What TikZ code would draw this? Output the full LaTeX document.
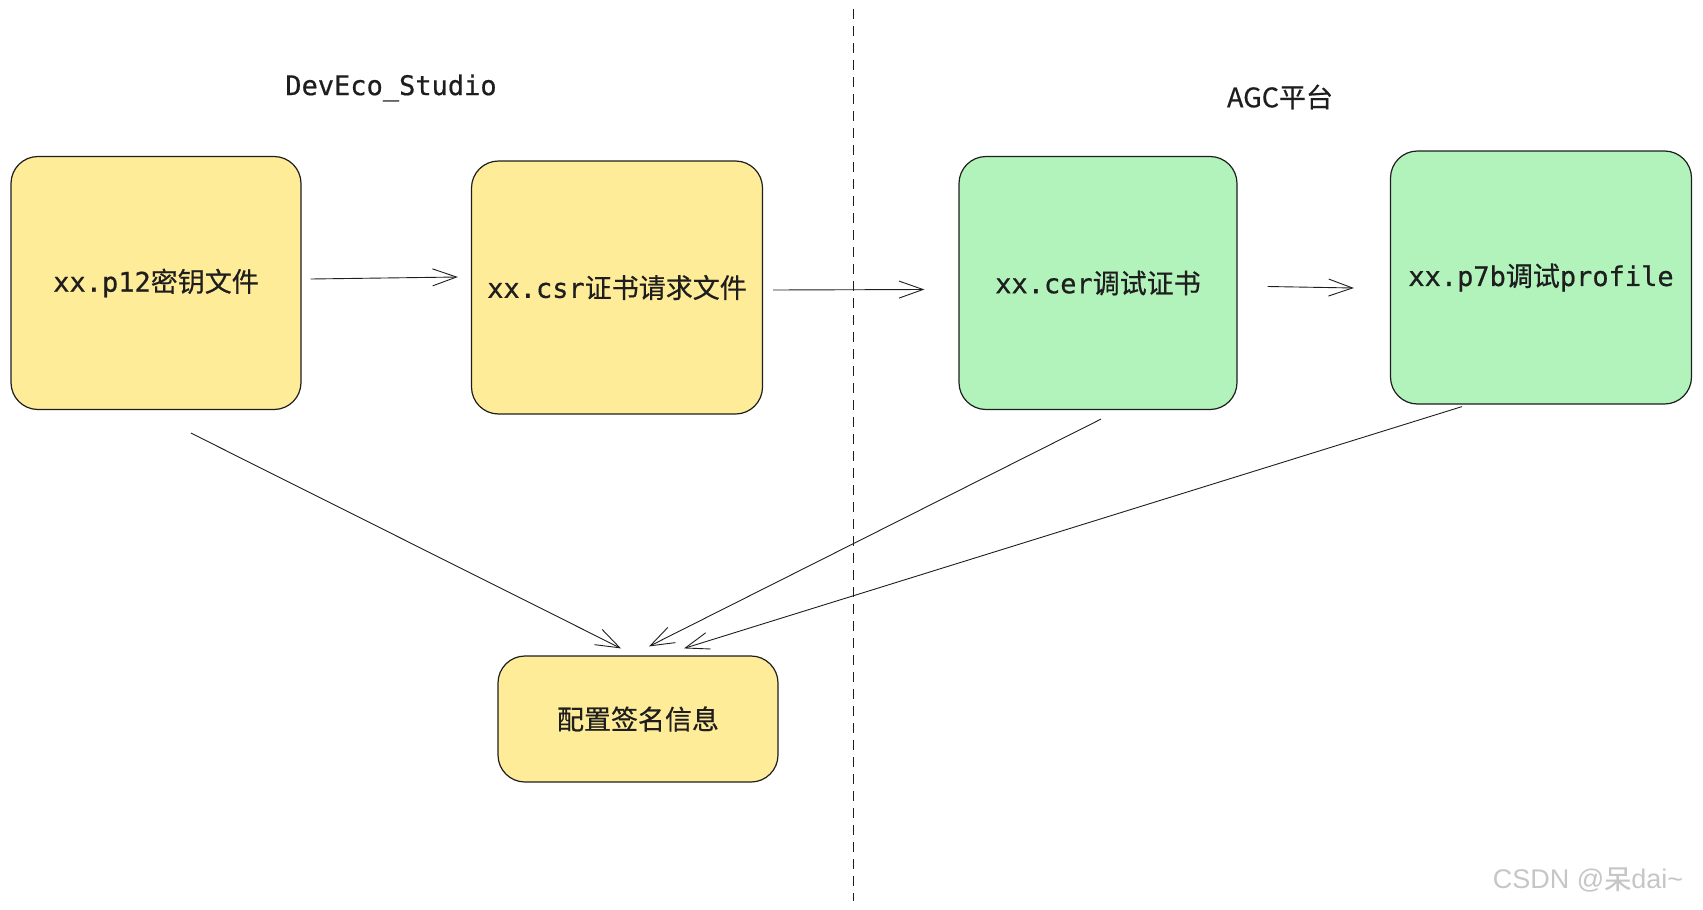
\documentclass[tikz,border=0pt]{standalone}
\usepackage{fontspec}
\setmainfont{DejaVu Sans Mono}[FakeBold=0.6]
\newfontfamily\cjk{Noto Sans CJK SC}[FakeBold=0.5]
\newfontfamily\markfont{Liberation Sans}
\usetikzlibrary{arrows.meta,positioning}
\definecolor{boxyellow}{HTML}{FFEC99}
\definecolor{boxgreen}{HTML}{B2F2BB}
\definecolor{ink}{HTML}{1E1E1E}

\begin{document}
\begin{tikzpicture}[x=1pt,y=-1pt,->,>={Straight Barb[length=24pt,width=17pt]},
	line width=0.9pt,draw=ink,node distance=461pt,
	every node/.style={font=\fontsize{27}{32}\selectfont,text=ink},
	file node/.style={rectangle,rounded corners=27pt,draw=ink,line width=1.2pt,
		inner sep=0pt,minimum width=290pt,minimum height=253pt}]

	\useasboundingbox (0,0) rectangle (1703,910);

	% section titles
	\node (studio) at (391,88) {DevEco\_Studio};
	\node (agc) at (1280,97) {\cjk AGC平台};

	% files
	\node[file node,fill=boxyellow] (p12) at (156,283) {xx.p12{\cjk 密钥文件}};
	\node[file node,fill=boxyellow,minimum width=291pt] (csr) [right of=p12,yshift=-4.5pt] {xx.csr{\cjk 证书请求文件}};
	\node[file node,fill=boxgreen,minimum width=278pt] (cer) [right of=csr,xshift=20pt,yshift=4.5pt] {xx.cer{\cjk 调试证书}};
	\node[file node,fill=boxgreen,minimum width=301pt] (p7b) [right of=cer,xshift=-18pt,yshift=5.5pt] {xx.p7b{\cjk 调试}profile};
	\node[file node,fill=boxyellow,minimum width=280pt,minimum height=126pt] (sign) at (638,719) {\cjk 配置签名信息};

	% split
	\draw[-,dash pattern=on 10pt off 7pt,line width=1pt] (853,9) -- (853,901);

	\draw ([xshift=9pt,yshift=4pt]p12.east) -- ([xshift=-13pt,yshift=10.5pt]csr.west);
	\draw ([xshift=10pt,yshift=-2.5pt]csr.east) -- ([xshift=-34pt,yshift=-6.5pt]cer.west);
	\draw ([xshift=30pt,yshift=-3.5pt]cer.east) -- ([xshift=-36pt,yshift=-10.5pt]p7b.west);

	\draw ([xshift=35pt,yshift=-23pt]p12.south) -- ([xshift=-17pt,yshift=7pt]sign.north);
	\draw ([xshift=3pt,yshift=-9pt]cer.south) -- ([xshift=11pt,yshift=9pt]sign.north);
	\draw ([xshift=-79pt,yshift=-2pt]p7b.south) -- ([xshift=46pt,yshift=7pt]sign.north);

	\node[text=gray!45,font=\markfont\fontsize{27}{30}\selectfont] (mark) at (1588,880) {CSDN @{\cjk 呆}dai\textasciitilde};

\end{tikzpicture}
\end{document}
